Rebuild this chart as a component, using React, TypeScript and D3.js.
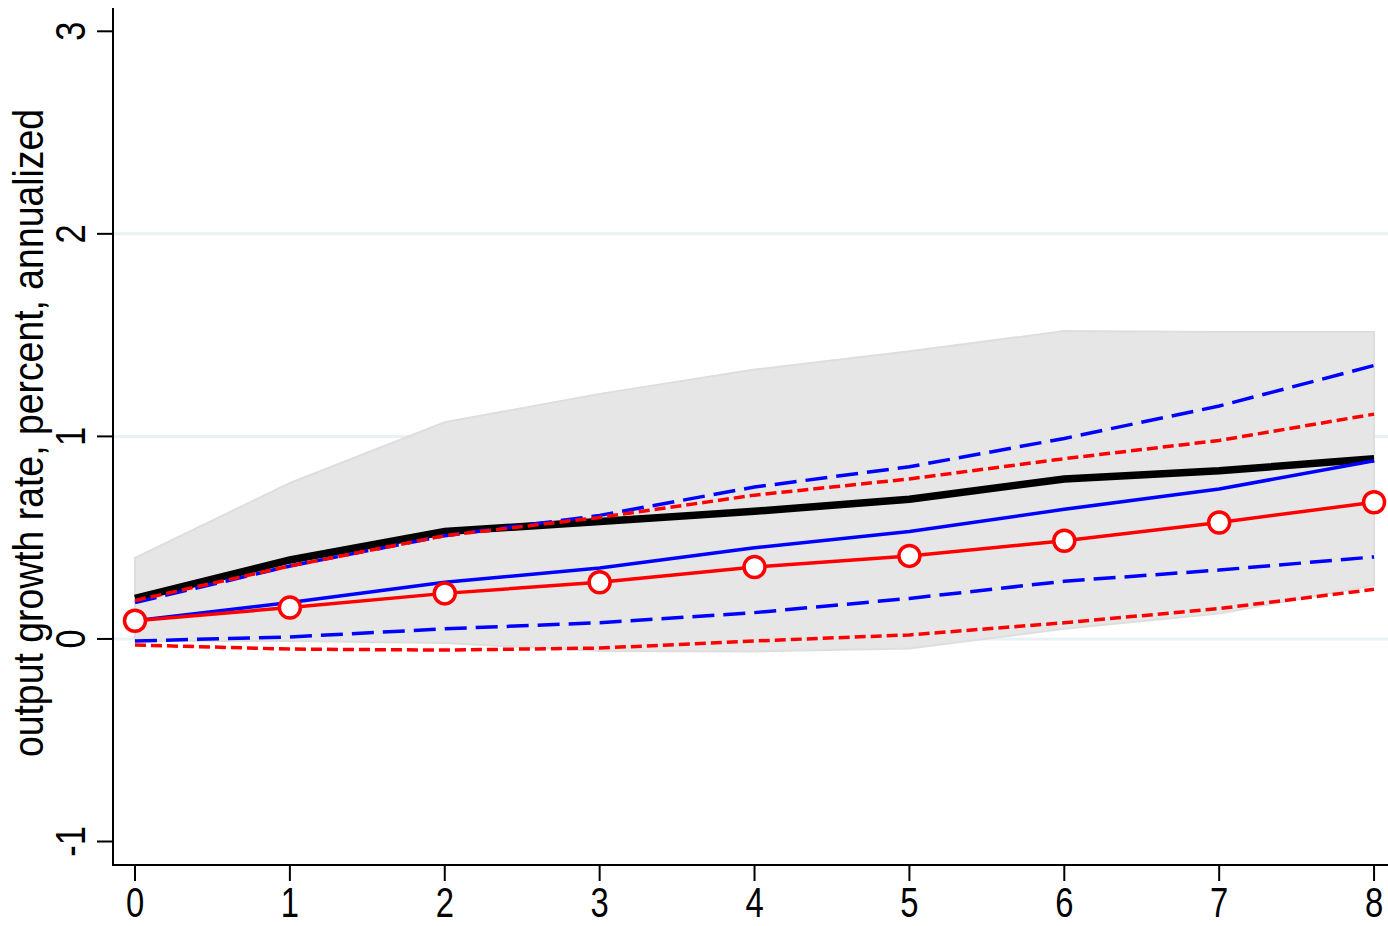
import * as d3 from "d3";

// horizon (quarters)
const horizons = [0, 1, 2, 3, 4, 5, 6, 7, 8];
const yTicks = [-1, 0, 1, 2, 3];
const gridTicks = [0, 1, 2];

// shaded band
const bandUpper = [0.4, 0.77, 1.07, 1.21, 1.33, 1.42, 1.52, 1.515, 1.515];
const bandLower = [-0.01, -0.01, -0.02, -0.06, -0.062, -0.047, 0.05, 0.125, 0.265];

// series
const blackLine = [0.2, 0.39, 0.53, 0.58, 0.63, 0.69, 0.79, 0.83, 0.89];
const blueSolid = [0.09, 0.18, 0.28, 0.35, 0.45, 0.53, 0.64, 0.74, 0.88];
const redCircles = [0.09, 0.155, 0.225, 0.28, 0.355, 0.41, 0.485, 0.575, 0.675];
const blueDashUp = [0.18, 0.36, 0.51, 0.61, 0.75, 0.85, 0.99, 1.15, 1.35];
const blueDashLo = [-0.01, 0.01, 0.05, 0.08, 0.13, 0.2, 0.285, 0.34, 0.405];
const redDashUp = [0.19, 0.36, 0.51, 0.6, 0.71, 0.79, 0.89, 0.98, 1.11];
const redDashLo = [-0.03, -0.05, -0.055, -0.045, -0.01, 0.02, 0.08, 0.15, 0.245];

const W = 1388;
const H = 926;
const FONT = "'Liberation Sans', Arial, sans-serif";

export default function App() {
  const x = d3.scaleLinear().domain([-0.142, 8.09]).range([113, 1388]);
  const y = d3.scaleLinear().domain([-1.116, 3.115]).range([865, 8]);

  const line = d3
    .line<number>()
    .x((_, i) => x(horizons[i]))
    .y((d) => y(d));

  const area = d3
    .area<number>()
    .x((_, i) => x(horizons[i]))
    .y0((_, i) => y(bandLower[i]))
    .y1((d) => y(d));

  return (
    <div style={{ position: "absolute", left: 0, top: 0 }}>
      <svg width={W} height={H} style={{ display: "block", background: "#fff" }}>
        {/* gridlines */}
        {gridTicks.map((t) => (
          <line
            key={"g" + t}
            x1={x.range()[0]}
            x2={W}
            y1={y(t)}
            y2={y(t)}
            stroke="#e8f1f3"
            strokeWidth={3}
          />
        ))}

        {/* band */}
        <path d={area(bandUpper) || ""} fill="#e6e6e6" stroke="#dedede" strokeWidth={2} />

        {/* lines */}
        <path d={line(blackLine) || ""} fill="none" stroke="#000" strokeWidth={7.5} />
        <path d={line(blueSolid) || ""} fill="none" stroke="#0000ff" strokeWidth={3.5} />
        <path d={line(blueDashUp) || ""} fill="none" stroke="#0000ff" strokeWidth={3.5} strokeDasharray="22,9" />
        <path d={line(blueDashLo) || ""} fill="none" stroke="#0000ff" strokeWidth={3.5} strokeDasharray="22,9" />
        <path d={line(redDashUp) || ""} fill="none" stroke="#ff0000" strokeWidth={3.5} strokeDasharray="11,5" />
        <path d={line(redDashLo) || ""} fill="none" stroke="#ff0000" strokeWidth={3.5} strokeDasharray="11,5" />
        <path d={line(redCircles) || ""} fill="none" stroke="#ff0000" strokeWidth={3.5} />
        {redCircles.map((v, i) => (
          <circle
            key={"c" + i}
            cx={x(horizons[i])}
            cy={y(v)}
            r={10.5}
            fill="#fff"
            stroke="#ff0000"
            strokeWidth={3.5}
          />
        ))}

        {/* y axis */}
        <line x1={113} x2={113} y1={8} y2={866} stroke="#000" strokeWidth={2} />
        {yTicks.map((t) => (
          <g key={"y" + t}>
            <line x1={97} x2={113} y1={y(t)} y2={y(t)} stroke="#000" strokeWidth={2} />
            <text
              transform={`translate(85,${y(t)}) rotate(-90) scale(0.8,1)`}
              textAnchor="middle"
              fontFamily={FONT}
              fontSize={43}
              fill="#000"
            >
              {t}
            </text>
          </g>
        ))}
        <text
          transform={`translate(43,${433}) rotate(-90) scale(0.89,1)`}
          textAnchor="middle"
          fontFamily={FONT}
          fontSize={42}
          fill="#000"
        >
          output growth rate, percent, annualized
        </text>

        {/* x axis */}
        <line x1={112} x2={W} y1={865} y2={865} stroke="#000" strokeWidth={2} />
        {horizons.map((h) => (
          <g key={"x" + h}>
            <line x1={x(h)} x2={x(h)} y1={865} y2={881} stroke="#000" strokeWidth={2} />
            <text
              transform={`translate(${x(h)},917) scale(0.82,1.05)`}
              textAnchor="middle"
              fontFamily={FONT}
              fontSize={40}
              fill="#000"
            >
              {h}
            </text>
          </g>
        ))}
      </svg>
    </div>
  );
}
